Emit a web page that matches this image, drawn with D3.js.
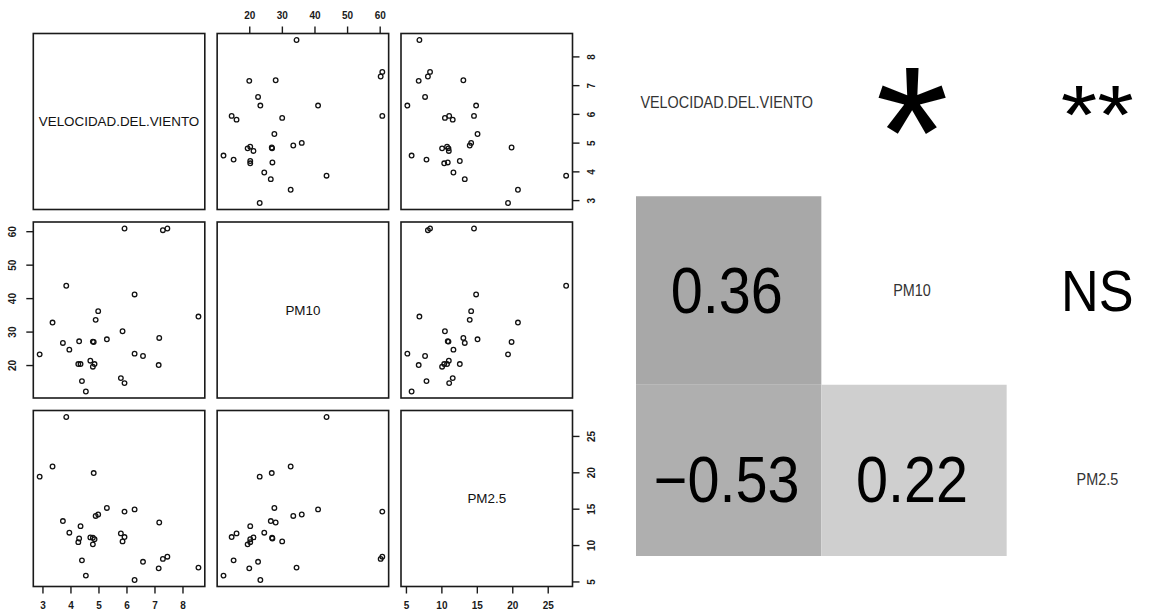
<!DOCTYPE html>
<html><head><meta charset="utf-8">
<script src="https://cdn.jsdelivr.net/npm/d3@7"></script>
<style>
html,body{margin:0;padding:0;background:#fff;}
svg{display:block;font-family:"Liberation Sans",Arial,sans-serif;}
</style></head>
<body>
<svg id="chart" width="1162" height="611"></svg>
<script>
// ---------- data ----------
const varNames = ["VELOCIDAD.DEL.VIENTO", "PM10", "PM2.5"];
const velocidad = [2.90,3.36,3.73,3.85,3.96,4.28,4.31,4.36,4.41,4.55,4.71,4.80,4.80,4.83,4.86,4.90,4.99,5.30,5.80,5.86,5.93,5.93,6.29,6.29,6.59,7.15,7.17,7.30,7.46,8.57];
const pm10      = [23.2,32.7,26.6,43.7,24.6,20.3,27.1,20.3,15.2,12.1,21.3,27.0,19.5,26.9,20.3,33.5,36.1,27.7,16.1,30.1,60.8,14.6,41.1,23.4,22.7,20.0,28.1,60.3,60.8,34.5];
const pm25      = [19.4,20.8,13.3,27.6,11.7,10.4,10.9,12.6,7.9,5.8,11.05,11.0,10.1,19.9,10.8,14.0,14.2,15.1,11.6,10.5,14.6,11.1,14.9,5.2,7.7,6.8,13.1,8.1,8.4,6.9];
const velTicks  = [3,4,5,6,7,8];
const pm10Ticks = [20,30,40,50,60];
const pm25Ticks = [5,10,15,20,25];
// correlation table: lower triangle values, upper triangle significance
const corrPairs  = [[1,0],[2,0],[2,1]];
const corrLabels = ["0.36","\u22120.53","0.22"];
const sigPairs   = [[0,1],[0,2],[1,2]];
const sigLabels  = ["*","**","NS"];

// ---------- setup ----------
const series = [velocidad, pm10, pm25];
const ticks  = [velTicks, pm10Ticks, pm25Ticks];
const svg = d3.select("#chart");
const W = 171.5, H = 176;
const colLeft = d3.scaleLinear().domain([0,1]).range([33.3, 217.15]);
const rowTop  = d3.scaleLinear().domain([0,1]).range([33.5, 222]);

function padDomain(arr){
  const [mn,mx] = d3.extent(arr); const r = mx-mn;
  return [mn-0.04*r, mx+0.04*r];
}
const xs = series.map(s => d3.scaleLinear().domain(padDomain(s)).range([0, W]));
const ys = series.map(s => d3.scaleLinear().domain(padDomain(s)).range([H, 0]));

const tickFont = {"font-size":"10px","font-weight":"bold","fill":"#1a1a1a"};
function styleText(sel){ Object.entries(tickFont).forEach(([k,v])=>sel.attr(k,v)); }

for (let i=0;i<3;i++){
  for (let j=0;j<3;j++){
    const g = svg.append("g").attr("transform",`translate(${colLeft(j)},${rowTop(i)})`);
    if (i===j){
      g.append("text").attr("x",W/2).attr("y",H/2).attr("dy","0.36em")
        .attr("text-anchor","middle").attr("font-size","13.4px").attr("fill","#111")
        .text(varNames[i]);
    } else {
      g.selectAll("circle").data(d3.range(series[0].length)).join("circle")
        .attr("cx",k=>xs[j](series[j][k])).attr("cy",k=>ys[i](series[i][k]))
        .attr("r",2.3).attr("fill","none").attr("stroke","#111").attr("stroke-width",1.3);
    }
    g.append("rect").attr("width",W).attr("height",H)
      .attr("fill","none").attr("stroke","#1a1a1a").attr("stroke-width",1.6);

    // axes, R pairs style
    if (i===2 && j!==1){ // bottom
      const a = g.append("g").attr("transform",`translate(0,${H})`)
        .call(d3.axisBottom(xs[j]).tickValues(ticks[j]).tickSize(7).tickFormat(d3.format("d")));
      a.select(".domain").remove();
      a.selectAll("line").attr("stroke","#1a1a1a").attr("stroke-width",1.4);
      const t = a.selectAll("text").attr("y",18.8).attr("dy","0.36em"); styleText(t);
    }
    if (i===0 && j===1){ // top
      const a = g.append("g")
        .call(d3.axisTop(xs[j]).tickValues(ticks[j]).tickSize(7).tickFormat(d3.format("d")));
      a.select(".domain").remove();
      a.selectAll("line").attr("stroke","#1a1a1a").attr("stroke-width",1.4);
      const t = a.selectAll("text").attr("y",-17.8).attr("dy","0.36em"); styleText(t);
    }
    if (j===0 && i===1){ // left
      const a = g.append("g")
        .call(d3.axisLeft(ys[i]).tickValues(ticks[i]).tickSize(7).tickFormat(d3.format("d")));
      a.select(".domain").remove();
      a.selectAll("line").attr("stroke","#1a1a1a").attr("stroke-width",1.4);
      const t = a.selectAll("text").attr("x",null).attr("dy","0.36em")
        .attr("text-anchor","middle").attr("transform","translate(-20.6,0) rotate(-90)");
      styleText(t);
    }
    if (j===2 && i!==1){ // right
      const a = g.append("g").attr("transform",`translate(${W},0)`)
        .call(d3.axisRight(ys[i]).tickValues(ticks[i]).tickSize(7).tickFormat(d3.format("d")));
      a.select(".domain").remove();
      a.selectAll("line").attr("stroke","#1a1a1a").attr("stroke-width",1.4);
      const t = a.selectAll("text").attr("x",null).attr("dy","0.36em")
        .attr("text-anchor","middle").attr("transform","translate(18.5,0) rotate(-90)");
      styleText(t);
    }
  }
}

// ---------- correlation table ----------
const tx = d3.scaleBand().domain(d3.range(3)).range([636, 1192]);
const ty = d3.scaleBand().domain(d3.range(3)).range([7.75, 573.25]);
svg.append("defs").append("clipPath").attr("id","tblclip")
  .append("rect").attr("x",0).attr("y",0).attr("width",1162).attr("height",556);
const tbl = svg.append("g").attr("clip-path","url(#tblclip)");
const tileFill = ["#a8a8a8","#afafaf","#cfcfcf"];
const xScaleText = 0.9;

tbl.selectAll("rect.tile").data(corrPairs).join("rect").attr("class","tile")
  .attr("x",d=>tx(d[1])).attr("y",d=>ty(d[0]))
  .attr("width",tx.bandwidth()).attr("height",ty.bandwidth())
  .attr("fill",(d,k)=>tileFill[k]);

const numSize = 64;
tbl.selectAll("text.num").data(corrPairs).join("text").attr("class","num")
  .attr("transform",d=>`translate(${tx(d[1])+tx.bandwidth()/2-2},${ty(d[0])+ty.bandwidth()/2+0.358*numSize}) scale(${xScaleText},1)`)
  .attr("text-anchor","middle").attr("font-size",numSize+"px").attr("fill","#000")
  .text((d,k)=>corrLabels[k]);

// diagonal labels
tbl.selectAll("text.diag").data(d3.range(3)).join("text").attr("class","diag")
  .attr("transform",k=>`translate(${tx(k)+tx.bandwidth()/2-2},${ty(k)+ty.bandwidth()/2+0.358*16}) scale(${xScaleText},1)`)
  .attr("text-anchor","middle").attr("font-size","16px").attr("fill","#333")
  .text(k=>varNames[k]);

// significance
const sigSize = [188, 83, 58];
const sigCenter = [0.507, 0.507, 0.358];
const sigScaleX = [1.0, 1.13, 0.9];
tbl.selectAll("text.sig").data(sigPairs).join("text").attr("class","sig")
  .attr("transform",(d,k)=>`translate(${tx(d[1])+tx.bandwidth()/2-2},${ty(d[0])+ty.bandwidth()/2+sigCenter[k]*sigSize[k]}) scale(${sigScaleX[k]},1)`)
  .attr("text-anchor","middle").attr("font-size",(d,k)=>sigSize[k]+"px").attr("fill","#000")
  .text((d,k)=>sigLabels[k]);
</script>
</body></html>
